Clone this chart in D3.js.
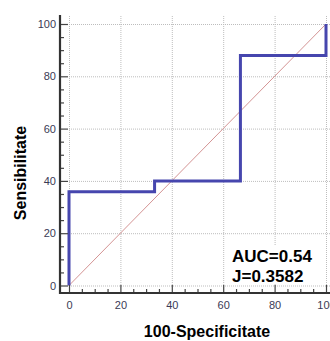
<!DOCTYPE html>
<html>
<head>
<meta charset="utf-8">
<script src="https://cdn.jsdelivr.net/npm/d3@7"></script>
<style>
	body { margin: 0; background: #fff; }
	svg { display: block; font-family: "Liberation Sans", Arial, sans-serif; }
</style>
</head>
<body>
<div id="chart"></div>
<script>
	// ROC curve points (100-Specificity, Sensitivity)
	const rocX = [0, 0, 33.3, 33.3, 66.7, 66.7, 100, 100];
	const rocY = [0, 35.82, 35.82, 40, 40, 88, 88, 100];
	const majorTicks = [0, 20, 40, 60, 80, 100];
	const minorTicks = d3.range(0, 101, 5).filter(v => v % 20 !== 0);
	const statLines = ["AUC=0.54", "J=0.3582"];

	const width = 330, height = 341;
	const svg = d3.select("#chart").append("svg")
		.attr("width", width).attr("height", height);

	// PLOT AREA
	const x = d3.scaleLinear().domain([0, 100]).range([69, 326]);
	const y = d3.scaleLinear().domain([0, 100]).range([285.5, 24]);
	const axisX = 60, axisY = 293, plotTop = 16;

	// grid
	const grid = svg.append("g")
		.attr("stroke", "#bdbdbd").attr("stroke-width", 1).attr("stroke-dasharray", "1,1");
	grid.selectAll(".gv").data(majorTicks).enter().append("line")
		.attr("x1", d => x(d) + 0.5).attr("x2", d => x(d) + 0.5)
		.attr("y1", plotTop).attr("y2", y(0));
	grid.selectAll(".gh").data(majorTicks).enter().append("line")
		.attr("x1", x(0)).attr("x2", width)
		.attr("y1", d => y(d) + 0.5).attr("y2", d => y(d) + 0.5);

	// reference diagonal
	svg.append("line")
		.attr("x1", x(0)).attr("y1", y(0))
		.attr("x2", x(100)).attr("y2", y(100))
		.attr("stroke", "#d49494").attr("stroke-width", 1);

	// ROC curve
	const rocData = rocX.map((v, i) => [v, rocY[i]]);
	svg.append("path")
		.datum(rocData)
		.attr("fill", "none")
		.attr("stroke", "#4646ae")
		.attr("stroke-width", 3)
		.attr("d", d3.line().x(d => x(d[0])).y(d => y(d[1])));

	// axes
	const yAxisG = svg.append("g").attr("transform", `translate(${axisX},0)`);
	yAxisG.call(d3.axisLeft(y).tickValues(majorTicks).tickSizeInner(-8).tickSizeOuter(0).tickPadding(4));
	const yMinorG = svg.append("g").attr("transform", `translate(${axisX},0)`);
	yMinorG.call(d3.axisLeft(y).tickValues(minorTicks).tickSizeInner(-4).tickSizeOuter(0).tickFormat(""));

	const xAxisG = svg.append("g").attr("transform", `translate(0,${axisY})`);
	xAxisG.call(d3.axisBottom(x).tickValues(majorTicks).tickSizeInner(-8).tickSizeOuter(0).tickPadding(8));
	const xMinorG = svg.append("g").attr("transform", `translate(0,${axisY})`);
	xMinorG.call(d3.axisBottom(x).tickValues(minorTicks).tickSizeInner(-4).tickSizeOuter(0).tickFormat(""));

	[yAxisG, yMinorG, xAxisG, xMinorG].forEach(g => {
		g.select(".domain").remove();
		g.selectAll(".tick line").attr("stroke", "#444").attr("stroke-width", 1.2);
		g.selectAll("text").attr("fill", "#3a3a55").style("font-size", "11px")
			.style("font-family", "'Liberation Sans', Arial, sans-serif");
	});

	// axis lines
	svg.append("line").attr("x1", axisX).attr("x2", axisX)
		.attr("y1", plotTop - 1).attr("y2", axisY + 1)
		.attr("stroke", "#333").attr("stroke-width", 2.2);
	svg.append("line").attr("x1", axisX - 1).attr("x2", width)
		.attr("y1", axisY).attr("y2", axisY)
		.attr("stroke", "#333").attr("stroke-width", 2.2);

	// stats box
	svg.append("rect")
		.attr("x", 229).attr("y", 245).attr("width", 97).attr("height", 39)
		.attr("fill", "#fff");
	svg.selectAll(".stat").data(statLines).enter().append("text")
		.attr("x", 232).attr("y", (d, i) => 261.5 + i * 20)
		.attr("fill", "#000").style("font-size", "17px").style("font-weight", "bold")
		.text(d => d);

	// axis titles
	svg.append("text")
		.attr("x", 207).attr("y", 337)
		.attr("text-anchor", "middle")
		.style("font-size", "16px").style("font-weight", "bold")
		.text("100-Specificitate");
	svg.append("text")
		.attr("transform", "translate(26,173) rotate(-90)")
		.attr("text-anchor", "middle")
		.style("font-size", "16px").style("font-weight", "bold")
		.text("Sensibilitate");
</script>
</body>
</html>
